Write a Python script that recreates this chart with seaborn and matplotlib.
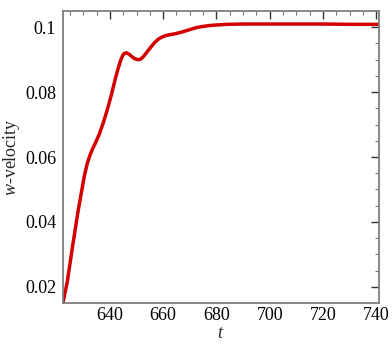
import matplotlib
matplotlib.use("Agg")
import matplotlib.pyplot as plt
import seaborn as sns
import pandas as pd
from matplotlib.ticker import MultipleLocator

t = [622.4, 624, 626, 628, 629.5, 630.5, 631.5, 632.5, 633.5, 634.5, 636,
     637.5, 639, 640.5, 642, 643, 644, 644.8, 645.5, 646.3, 647.2, 648.2,
     649.3, 650.5, 651.6, 652.6, 653.6, 654.6, 655.7, 656.8, 658, 659.3,
     660.8, 662.5, 664.5, 666.5, 668.5, 670.5, 672.5, 674.5, 677, 680, 684,
     690, 700, 710, 720, 730, 741]
w_vel = [0.0152, 0.0215, 0.0325, 0.0430, 0.0500, 0.0545, 0.0580, 0.0605,
         0.0625, 0.0642, 0.0670, 0.0705, 0.0745, 0.0790, 0.0840, 0.0870,
         0.0897, 0.0913, 0.0920, 0.0921, 0.0917, 0.0910, 0.0903, 0.0900,
         0.0902, 0.0910, 0.0920, 0.0931, 0.0942, 0.0953, 0.0962, 0.0969,
         0.0974, 0.0977, 0.0980, 0.0984, 0.0989, 0.0994, 0.0999, 0.1002,
         0.1005, 0.1007, 0.1009, 0.1010, 0.1010, 0.1010, 0.1010, 0.1009,
         0.1009]
x_ticks = [640, 660, 680, 700, 720, 740]
y_ticks = [0.02, 0.04, 0.06, 0.08, 0.1]
y_tick_labels = ["0.02", "0.04", "0.06", "0.08", "0.1"]

sns.set_theme(style="white")
plt.rcParams['font.family'] = ['Liberation Serif', 'DejaVu Serif']
plt.rcParams['mathtext.fontset'] = 'custom'
plt.rcParams['mathtext.rm'] = 'Liberation Serif'
plt.rcParams['mathtext.it'] = 'Liberation Serif:italic'

df = pd.DataFrame({"t": t, "w": w_vel})

fig = plt.figure(figsize=(3.92, 3.49), dpi=100)
ax = fig.add_axes([0.1607, 0.1327, 0.8061, 0.8366])
sns.lineplot(data=df, x="t", y="w", ax=ax, color="#d40000", linewidth=2.5)

ax.set_xlim(622.4, 741)
ax.set_ylim(0.0151, 0.1051)
ax.set_xticks(x_ticks)
ax.set_yticks(y_ticks)
ax.set_yticklabels(y_tick_labels)
ax.xaxis.set_minor_locator(MultipleLocator(5))
ax.yaxis.set_minor_locator(MultipleLocator(0.005))
ax.tick_params(which="both", direction="in", top=True, right=True,
               labelsize=13, colors="#333333", labelcolor="black")
ax.tick_params(axis="y", which="major", length=6, width=1.0, pad=5)
ax.tick_params(axis="x", which="major", length=6, width=1.0, pad=3)
ax.tick_params(which="minor", length=3, width=0.8, color="#777777")
for s in ax.spines.values():
    s.set_color("#7f7f7f")
    s.set_linewidth(1.3)

ax.set_xlabel("$t$", fontsize=13, labelpad=1)
ax.set_ylabel("$w$-velocity", fontsize=13, labelpad=2)

fig.savefig("out.png", dpi=100)
